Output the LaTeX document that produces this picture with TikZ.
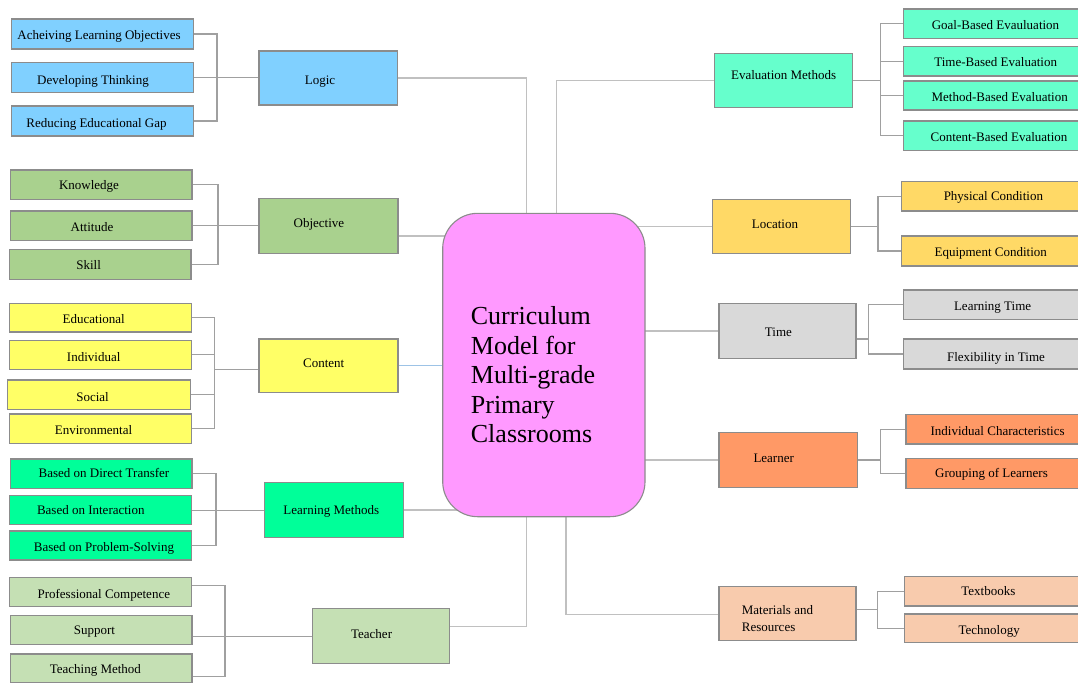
\documentclass[tikz,border=0pt]{standalone}
\usepackage{fontspec}
\setmainfont{Liberation Serif}
\usetikzlibrary{fit}
\pgfdeclarelayer{bg}
\pgfsetlayers{bg,main}
\definecolor{cLogic}{HTML}{80D0FF}
\definecolor{cObj}{HTML}{A9D18E}
\definecolor{cCont}{HTML}{FFFF66}
\definecolor{cLM}{HTML}{00FF99}
\definecolor{cTch}{HTML}{C5E0B4}
\definecolor{cEval}{HTML}{66FFCC}
\definecolor{cLoc}{HTML}{FFD966}
\definecolor{cTime}{HTML}{D9D9D9}
\definecolor{cLrn}{HTML}{FF9966}
\definecolor{cMat}{HTML}{F8CBAD}
\definecolor{cCen}{HTML}{FF99FF}
\definecolor{boxgray}{HTML}{8C8C8C}
\definecolor{conngray}{HTML}{C0C0C0}
\definecolor{brkgray}{HTML}{A0A0A0}
\definecolor{connblue}{HTML}{9DC3E6}
\tikzset{
  box/.style={draw=boxgray, line width=1.1pt, inner sep=0pt, rectangle},
  lbl/.style={inner sep=0pt, font=\fontsize{13}{15}\selectfont, text height=12.5pt, text depth=1.5pt},
  conn/.style={draw=conngray, line width=1.3pt},
  connb/.style={draw=connblue, line width=1.3pt},
  brk/.style={draw=brkgray, line width=1.2pt},
}
\newcommand\bx[9]{%
  \node[box, fill=#6, fit={(#2,#3)(#4,#5)}] (#1) {};
  \node[lbl] (#1t) at (#7,#8) {#9};}
\begin{document}
\begin{tikzpicture}[x=1pt,y=-1pt]
\useasboundingbox (0,0) rectangle (1078,683);
% ---------- left side ----------
\bx{ach}{11.4}{19}{193.5}{49}{cLogic}{99}{33.7}{Acheiving Learning Objectives}
\bx{dev}{11.4}{62.3}{193.5}{92.3}{cLogic}{93}{78.5}{Developing Thinking}
\bx{red}{11.4}{106}{193.5}{136}{cLogic}{96.5}{121.5}{Reducing Educational Gap}
\bx{logic}{259}{51}{397.7}{105}{cLogic}{320}{78.7}{Logic}

\bx{know}{10.3}{170}{192}{199.3}{cObj}{89}{184.3}{Knowledge}
\bx{att}{10.3}{211}{192}{240.7}{cObj}{92}{225.7}{Attitude}
\bx{skill}{9.3}{249.7}{191}{279.3}{cObj}{88.6}{264.3}{Skill}
\bx{obj}{259}{198.3}{398}{253.3}{cObj}{318.9}{222.3}{Objective}

\bx{edu}{9.3}{303.7}{191.4}{332}{cCont}{93.7}{317.7}{Educational}
\bx{ind}{9.3}{340.3}{191.4}{369.3}{cCont}{93.7}{355.7}{Individual}
\bx{soc}{7.9}{380}{190.3}{409.3}{cCont}{92.6}{395.7}{Social}
\bx{env}{9.3}{414}{191.4}{443.7}{cCont}{93.5}{428.7}{Environmental}
\bx{cont}{259}{339}{398}{392.3}{cCont}{323.7}{361.7}{Content}

\bx{dir}{10.3}{459}{192}{488.3}{cLM}{104}{472.3}{Based on Direct Transfer}
\bx{inter}{9.3}{495.7}{191.4}{524.7}{cLM}{90.8}{509.3}{Based on Interaction}
\bx{prob}{9.3}{531}{191.4}{560}{cLM}{104}{546}{Based on Problem-Solving}
\bx{lm}{264.8}{482.3}{403.4}{537.7}{cLM}{331.3}{509.3}{Learning Methods}

\bx{prof}{9.3}{577.7}{191.4}{606.7}{cTch}{103.8}{592.7}{Professional Competence}
\bx{sup}{10.3}{615.7}{192}{644.7}{cTch}{94.4}{629.3}{Support}
\bx{teach}{10.3}{654}{192}{682.3}{cTch}{95.4}{668}{Teaching Method}
\bx{tch}{312.7}{608.3}{449.7}{663.3}{cTch}{371.6}{633.3}{Teacher}
% ---------- right side ----------
\bx{eval}{714.3}{53.3}{852.6}{107.3}{cEval}{783.6}{74.3}{Evaluation Methods}
\bx{goal}{903.7}{9}{1090}{38.3}{cEval}{995.5}{23.5}{Goal-Based Evauluation}
\bx{timeb}{903.7}{46.7}{1090}{76}{cEval}{995.7}{61.3}{Time-Based Evaluation}
\bx{meth}{903.7}{81}{1090}{110}{cEval}{999.7}{95.5}{Method-Based Evaluation}
\bx{contb}{903.7}{121}{1090}{150.7}{cEval}{999}{136}{Content-Based Evaluation}

\bx{loc}{712.2}{199.3}{850.5}{253.3}{cLoc}{774.9}{223.3}{Location}
\bx{phys}{901.3}{181.7}{1090}{211}{cLoc}{993.4}{194.7}{Physical Condition}
\bx{equip}{901.3}{236}{1090}{266}{cLoc}{990.7}{250.7}{Equipment Condition}

\bx{time}{719}{303.3}{856}{358.7}{cTime}{778.4}{330.7}{Time}
\bx{lt}{903.7}{290}{1090}{319.3}{cTime}{992.6}{304.7}{Learning Time}
\bx{flex}{903.7}{339}{1090}{369}{cTime}{996}{355.7}{Flexibility in Time}

\bx{lrn}{719}{432.7}{857.4}{487.3}{cLrn}{773.7}{457.3}{Learner}
\bx{ic}{906}{414.3}{1090}{444}{cLrn}{997.6}{430}{Individual Characteristics}
\bx{grp}{906}{458.7}{1090}{488.3}{cLrn}{991.5}{471.7}{Grouping of Learners}

\node[box, fill=cMat, fit={(719,586.7)(856,640.7)}] (mat) {};
\node[inner sep=0pt, anchor=west, align=left, font=\fontsize{13}{17}\selectfont] (matt) at (741.7,618.3) {Materials and\\Resources};
\bx{tb}{904.7}{576.7}{1090}{606}{cMat}{988.3}{590}{Textbooks}
\bx{tech}{904.7}{614}{1090}{642.7}{cMat}{989.2}{629}{Technology}
% ---------- centre ----------
\node[draw=boxgray, line width=1.1pt, fill=cCen, rounded corners=35pt, inner sep=0pt,
      fit={(442.7,213.3)(645,516.7)}] (cen) {};
\node[anchor=west, align=left, inner sep=0pt, font=\fontsize{26}{29.5}\selectfont] (cent)
      at (470.7,375) {Curriculum\\Model for\\Multi-grade\\Primary\\Classrooms};
% ---------- connectors ----------
\begin{pgfonlayer}{bg}
  % brackets left
  \coordinate (lgB) at (217,77.7);
  \draw[brk] (ach.east) -| (lgB);
  \draw[brk] (red.east) -| (lgB);
  \draw[brk] (dev.east) -- (dev.east -| logic.west);
  \coordinate (obB) at (218,226);
  \draw[brk] (know.east) -| (obB);
  \draw[brk] (skill.east) -| (obB);
  \draw[brk] (att.east) -- (att.east -| obj.west);
  \coordinate (ctB) at (214.8,369.3);
  \draw[brk] (edu.east) -| (ctB);
  \draw[brk] (env.east) -| (ctB);
  \draw[brk] (ind.east) -- (ind.east -| ctB);
  \draw[brk] (soc.east) -- (soc.east -| ctB);
  \draw[brk] (ctB) -- (ctB -| cont.west);
  \coordinate (lmB) at (216,510.3);
  \draw[brk] (dir.east) -| (lmB);
  \draw[brk] (prob.east) -| (lmB);
  \draw[brk] (inter.east) -- (inter.east -| lm.west);
  \coordinate (tcTop) at (224.9,585.7);
  \coordinate (tcMid) at (224.9,636.7);
  \coordinate (tcBot) at (224.9,676.7);
  \draw[brk] (prof.east |- tcTop) -- (tcTop) -- (tcBot) -- (teach.east |- tcBot);
  \draw[brk] (sup.east |- tcMid) -- (tcMid -| tch.west);
  % brackets right
  \coordinate (evB) at (880.7,80.7);
  \draw[brk] (goal.west) -| (evB);
  \draw[brk] (contb.west) -| (evB);
  \draw[brk] (timeb.west) -- (timeb.west -| evB);
  \draw[brk] (meth.west) -- (meth.west -| evB);
  \draw[brk] (eval.east |- evB) -- (evB);
  \coordinate (loB) at (878,226.7);
  \draw[brk] (phys.west) -| (loB);
  \draw[brk] (equip.west) -| (loB);
  \draw[brk] (loc.east |- loB) -- (loB);
  \coordinate (tmB) at (868.4,339);
  \draw[brk] (lt.west) -| (tmB);
  \draw[brk] (flex.west) -| (tmB);
  \draw[brk] (time.east |- tmB) -- (tmB);
  \coordinate (lrB) at (880.7,460);
  \draw[brk] (ic.west) -| (lrB);
  \draw[brk] (grp.west) -| (lrB);
  \draw[brk] (lrn.east |- lrB) -- (lrB);
  \coordinate (maB) at (877.3,609.3);
  \draw[brk] (tb.west) -| (maB);
  \draw[brk] (tech.west) -| (maB);
  \draw[brk] (mat.east |- maB) -- (maB);
  % centre connectors
  \coordinate (tL) at (526.7,240);
  \draw[conn] (logic.east) -| (tL);
  \coordinate (oC) at (398,236);
  \draw[conn] (oC) -- (oC -| cen.center);
  \draw[connb] (cont.east) -- (cont.east -| cen.center);
  \draw[conn] (lm.east) -- (lm.east -| cen.center);
  \coordinate (tcC) at (526.7,626.7);
  \draw[conn] (tch.east |- tcC) -- (tcC) -- (tcC |- cen.center);
  \coordinate (tE) at (556.7,240);
  \draw[conn] (eval.west) -| (tE);
  \draw[conn] (loc.west) -- (loc.west -| cen.center);
  \draw[conn] (time.west) -- (time.west -| cen.center);
  \draw[conn] (lrn.west) -- (lrn.west -| cen.center);
  \coordinate (maC) at (566,614.7);
  \draw[conn] (mat.west |- maC) -- (maC) -- (maC |- cen.center);
\end{pgfonlayer}
\end{tikzpicture}
\end{document}
